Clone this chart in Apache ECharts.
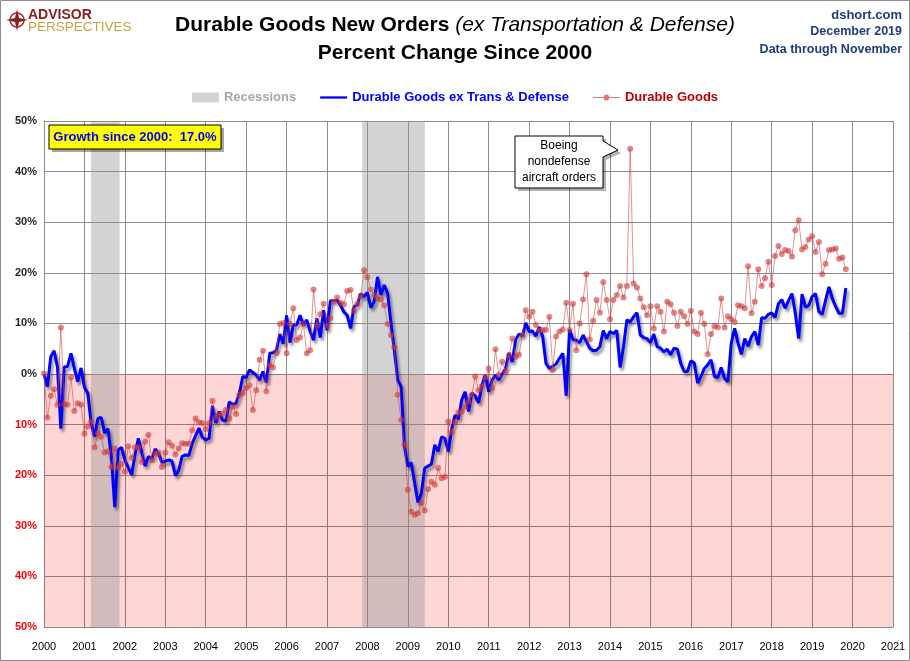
<!DOCTYPE html>
<html>
<head>
<meta charset="utf-8">
<script src="https://cdn.jsdelivr.net/npm/echarts@6/dist/echarts.min.js"></script>
<style>html,body{margin:0;padding:0;background:#fff;}#c{width:910px;height:661px;}</style>
</head>
<body>
<div id="c"></div>
<script>
// ---- data (monthly, Jan 2000 .. Nov 2019), percent change since 2000 ----
const startYear = 2000;
const exTransDefense = [
  0, -2.5, 3.4, 4.6, 1.4, -10.8, 1.4, 1.5, 4.1, 1.1, -1.5, 1.2,            // 2000
  -2.6, -3.8, -9.8, -12.4, -8.8, -8.6, -11.7, -10.8, -16.4, -26.3, -15, -14.5, // 2001
  -17, -18.5, -19.9, -16, -12.7, -15.5, -18.2, -16.3, -16.8, -14.8, -15.7, -17.5, // 2002
  -17.2, -17, -17.2, -20.1, -19, -16.3, -16, -16.1, -13.7, -12.2, -10.7, -12.5, // 2003
  -13, -12.7, -6.3, -9.7, -7.4, -9.1, -9.3, -5.5, -6.0, -5.8, -3.8, -0.5,   // 2004
  -0.7, 0.8, 0.3, -0.2, -1.2, 0.5, -1.7, 4.1, 4.2, 4.7, 7.9, 6.0,           // 2005
  11.6, 6.2, 9.7, 9.7, 11.6, 9.7, 10.7, 8.4, 6.7, 11, 7.2, 12.6,            // 2006
  8.7, 14.5, 14.5, 14.6, 13.6, 12.3, 11.6, 9.0, 13.3, 13.6, 15.9, 15.3,     // 2007
  16.1, 13.1, 14.3, 19.2, 15.6, 17.6, 15.9, 10, 4.7, -1.2, -2.5, -14.3,     // 2008
  -18.3, -17.5, -21.5, -25.4, -23.6, -18.6, -18.2, -17.8, -14, -15.3, -12.4, -12.7, // 2009
  -15.3, -11, -8.1, -8.9, -5.1, -3.5, -7.4, -3.8, -4.3, -5.7, -2.2, -0.2,   // 2010
  -3.5, -1.2, -0.2, -1.2, 0, 1.1, 4.2, 2.4, 6.8, 7.9, 7.5, 10.1,            // 2011
  8.4, 8.5, 7.5, 9.3, 7.4, 2.1, 1.1, 1.5, 2.0, 3.1, 4.1, -4.3,              // 2012
  8.8, 6.8, 6.7, 6.2, 7.7, 6.4, 5.1, 4.6, 4.7, 5.4, 8.6, 7.0,               // 2013
  8.4, 8.0, 8.6, 1.3, 5.4, 10.7, 10.3, 11.3, 12.1, 7.7, 7.2, 7.0,           // 2014
  6.2, 7.9, 5.4, 5.1, 4.4, 4.9, 3.8, 5.1, 4.9, 2.1, 0.5, 0.5,               // 2015
  2.6, 2.2, -1.8, -0.5, 1.1, 1.8, 2.8, -0.5, -0.7, 1.3, -0.9, -1.5,         // 2016
  6.1, 9.0, 6.1, 3.9, 7.0, 5.5, 7.4, 8.4, 5.7, 11.1, 11.0, 11.8,            // 2017
  12.1, 11.2, 13.9, 14.7, 13.0, 14.5, 15.9, 12.0, 7.0, 15.8, 13.2, 13.6,    // 2018
  15.3, 15.9, 12.3, 11.8, 14.6, 17.2, 14.9, 13.3, 12.0, 12.0, 17.0          // 2019
];
const durableGoods = [
  0.1, -8.6, -4.3, -3, -6.1, 9.2, -6, -6.1, -0.7, -7.3, -5.8, -6.1,         // 2000
  -11.8, -10.4, -9.4, -14.5, -11.7, -12.4, -15.5, -15.3, -18.4, -14.7, -18.6, -17.8, // 2001
  -19.3, -14.3, -16.6, -14.5, -14.5, -17.4, -13.4, -12, -17, -15.7, -15.5, -18.4, // 2002
  -15.5, -13.5, -14.2, -15.9, -14.7, -13.7, -13.8, -13.8, -11.1, -8.8, -9.6, -9.7, // 2003
  -10.9, -9.7, -5.3, -8.6, -8.1, -7.8, -7.1, -8.8, -6.4, -7.9, -4.1, -3.8,  // 2004
  -2.8, -2.2, -7.1, -3.2, 2.8, 4.6, -3.4, 1.8, 1.3, 4.2, 9.9, 10.1,         // 2005
  4.1, 9.9, 13, 6.7, 7.2, 9.9, 4.1, 4.7, 16.7, 9.5, 11.8, 13.9,             // 2006
  9.5, 11, 14.3, 15.1, 14.1, 13.8, 16.4, 16.6, 12.5, 13.9, 15.4, 20.5,      // 2007
  19.1, 16.7, 15.6, 14.9, 14.7, 13.6, 9.9, 7.7, 5.3, -4.1, -9.1, -14,       // 2008
  -22.9, -27.2, -27.8, -27.5, -25.5, -27, -22.8, -21.3, -21.9, -18.6, -20.6, -20.3, // 2009
  -9.4, -11.5, -9.5, -7.6, -7.4, -6.5, -5.5, -4.1, -0.5, -3.2, -2.4, -0.7,  // 2010
  1.1, -2.8, 4.9, -0.2, 2.4, 0.5, 3.6, 7.0, 3.4, 3.8, 7.7, 12.6,            // 2011
  11.3, 12.3, 9.7, 8.6, 8.7, 8.7, 11.3, 0.9, 7.4, 8.4, 8.8, 14.1,           // 2012
  8.7, 13.9, 4.7, 10, 14.7, 19.7, 6.8, 10.5, 14.6, 12.1, 18.2, 14.6,        // 2013
  10.8, 14.6, 15.6, 17.4, 15.1, 17.4, 44.5, 17.9, 17.1, 14.9, 13.2, 11.6,   // 2014
  13.4, 9.0, 13.4, 12.3, 8.4, 14.3, 13.8, 12.1, 9.5, 12.3, 11.4, 9.9,       // 2015
  12.5, 8.4, 7.9, 12.1, 9.9, 3.9, 7.9, 9.5, 9.2, 14.9, 9.2, 11.4,           // 2016
  10.8, 10.3, 13.6, 13.4, 13.0, 21.3, 12.0, 14.3, 20.7, 17.4, 18.9, 22.2,   // 2017
  17.6, 23.3, 25.3, 23.7, 24.5, 24.3, 23.2, 28.4, 30.4, 24.6, 25.1, 26.6,   // 2018
  27.2, 24.1, 26.1, 19.7, 21.8, 24.5, 24.6, 24.8, 22.8, 23.0, 20.7          // 2019
];
const recessionPeriods = [[2001.16, 2001.87], [2007.87, 2009.42]];
const xMin = 2000, xMax = 2021, xStep = 1;
const yMin = -50, yMax = 50, yStep = 10;
const seriesNames = ['Recessions', 'Durable Goods ex Trans & Defense', 'Durable Goods'];

// ---- chart ----
const F = '"Liberation Sans", Arial, sans-serif';
const toXY = arr => arr.map((v, i) => [startYear + i / 12, v]);
const lastGrowth = exTransDefense[exTransDefense.length - 1];

const chart = echarts.init(document.getElementById('c'), null, {width: 910, height: 661, renderer: 'canvas'});

const areaData = [
  [{xAxis: xMin, yAxis: yMin, itemStyle: {color: 'rgba(255,0,0,0.16)'}}, {xAxis: xMax, yAxis: 0}]
].concat(recessionPeriods.map(p => [
  {xAxis: p[0], yAxis: yMin, itemStyle: {color: 'rgba(150,150,150,0.42)'}}, {xAxis: p[1], yAxis: yMax}
]));

const option = {
  animation: false,
  backgroundColor: '#ffffff',
  textStyle: {fontFamily: F},
  legend: {
    top: 86, left: 'center', itemGap: 24, itemWidth: 27, itemHeight: 10,
    textStyle: {fontSize: 13, fontWeight: 'bold', fontFamily: F},
    data: [
      {name: seriesNames[0], icon: 'rect', itemStyle: {color: '#d3d3d3'}, textStyle: {color: '#a6a6a6'}},
      {name: seriesNames[1], icon: 'path://M0,0H28V2.4H0Z', itemStyle: {color: '#0000ff'}, textStyle: {color: '#0000ff'}},
      {name: seriesNames[2], icon: 'path://M0,4.6H10.5A2.5,2.5,0,0,1,15.5,4.6H26V5.4H15.5A2.5,2.5,0,0,1,10.5,5.4H0Z', itemStyle: {color: 'rgba(215,70,70,0.75)'}, textStyle: {color: '#c00000'}}
    ]
  },
  grid: {left: 44, right: 17, top: 121, bottom: 34},
  xAxis: {
    type: 'value', min: xMin, max: xMax, interval: xStep,
    axisLine: {show: true, onZero: false, lineStyle: {color: '#8c8c8c'}},
    axisTick: {show: false},
    axisLabel: {color: '#000', fontSize: 11, margin: 14, fontFamily: F, formatter: v => String(Math.round(v))},
    splitLine: {show: true, lineStyle: {color: '#8c8c8c', width: 1}}
  },
  yAxis: {
    type: 'value', min: yMin, max: yMax, interval: yStep,
    axisLine: {show: true, lineStyle: {color: '#8c8c8c'}},
    axisTick: {show: false},
    axisLabel: {
      fontSize: 11, fontWeight: 'bold', margin: 7, fontFamily: F,
      formatter: v => Math.abs(v) + '%',
      color: v => (Number(v) < 0 ? '#ff0000' : '#262626')
    },
    splitLine: {show: true, lineStyle: {color: '#8c8c8c', width: 1}}
  },
  series: [
    {
      name: seriesNames[0], type: 'bar', data: [], z: -1, silent: true,
      itemStyle: {color: '#d3d3d3'},
      markArea: {silent: true, data: areaData}
    },
    {
      name: seriesNames[1], type: 'line', data: toXY(exTransDefense), z: 3,
      symbol: 'none', showSymbol: false,
      lineStyle: {color: '#0000ff', width: 3, shadowColor: 'rgba(0,0,0,0.45)', shadowBlur: 3, shadowOffsetX: 2, shadowOffsetY: 3},
      itemStyle: {color: '#0000ff'}
    },
    {
      name: seriesNames[2], type: 'line', data: toXY(durableGoods), z: 4,
      symbol: 'circle', symbolSize: 6, showSymbol: true, showAllSymbol: true,
      lineStyle: {color: 'rgba(215,70,70,0.6)', width: 1},
      itemStyle: {color: 'rgba(205,55,55,0.6)'}
    }
  ],
  graphic: [
    // outer frame
    {type: 'rect', silent: true, shape: {x: 0.5, y: 0.5, width: 909, height: 660}, style: {fill: 'none', stroke: '#8c8c8c', lineWidth: 1}},
    // logo
    {type: 'circle', shape: {cx: 17, cy: 20, r: 7}, style: {fill: 'none', stroke: '#9b2a2a', lineWidth: 1.5}},
    {type: 'polygon', shape: {points: [[17, 9], [19, 18], [28, 20], [19, 22], [17, 31], [15, 22], [6, 20], [15, 18]]}, style: {fill: '#8b1d1d'}},
    {type: 'text', style: {text: 'ADVISOR', x: 28, y: 15, fill: '#8b1d1d', font: 'bold 14px ' + F, verticalAlign: 'middle'}},
    {type: 'text', style: {text: 'PERSPECTIVES', x: 28, y: 27, fill: '#c9a23f', font: '13.5px ' + F, verticalAlign: 'middle'}},
    // title
    {type: 'text', style: {
      text: '{b|Durable Goods New Orders }{i|(ex Transportation & Defense)}', x: 455, y: 25, align: 'center', verticalAlign: 'middle',
      rich: {b: {font: 'bold 21px ' + F, fill: '#000'}, i: {font: 'italic 21px ' + F, fill: '#000'}}
    }},
    {type: 'text', style: {text: 'Percent Change Since 2000', x: 455, y: 53, align: 'center', verticalAlign: 'middle', font: 'bold 21px ' + F, fill: '#000'}},
    // top right
    {type: 'text', style: {text: 'dshort.com', x: 902, y: 15, align: 'right', verticalAlign: 'middle', font: 'bold 13px ' + F, fill: '#1f3d7a'}},
    {type: 'text', style: {text: 'December 2019', x: 902, y: 32, align: 'right', verticalAlign: 'middle', font: 'bold 12.5px ' + F, fill: '#1f3d7a'}},
    {type: 'text', style: {text: 'Data through November', x: 902, y: 50, align: 'right', verticalAlign: 'middle', font: 'bold 12.5px ' + F, fill: '#1f3d7a'}},
    // growth box
    {type: 'rect', z: 10, shape: {x: 52, y: 128, width: 172, height: 24}, style: {fill: 'rgba(0,0,0,0.35)'}},
    {type: 'rect', z: 11, shape: {x: 49, y: 125, width: 172, height: 24}, style: {fill: '#ffff00', stroke: '#000', lineWidth: 1}},
    {type: 'text', z: 12, style: {text: 'Growth since 2000:  ' + lastGrowth.toFixed(1) + '%', x: 135, y: 137.5, align: 'center', verticalAlign: 'middle', font: 'bold 13px ' + F, fill: '#0000ff'}},
    // Boeing callout
    {type: 'polygon', z: 10, shape: {points: [[518, 139], [606, 139], [606, 144], [621, 153], [606, 160], [606, 191], [518, 191]]}, style: {fill: 'rgba(0,0,0,0.3)'}},
    {type: 'polygon', z: 11, shape: {points: [[515, 136], [603, 136], [603, 141], [618, 150], [603, 157], [603, 188], [515, 188]]}, style: {fill: '#fff', stroke: '#000', lineWidth: 1}},
    {type: 'text', z: 12, style: {text: 'Boeing\nnondefense\naircraft orders', x: 559, y: 162, align: 'center', verticalAlign: 'middle', font: '12px ' + F, lineHeight: 16, fill: '#000'}}
  ]
};
chart.setOption(option);
</script>
</body>
</html>
